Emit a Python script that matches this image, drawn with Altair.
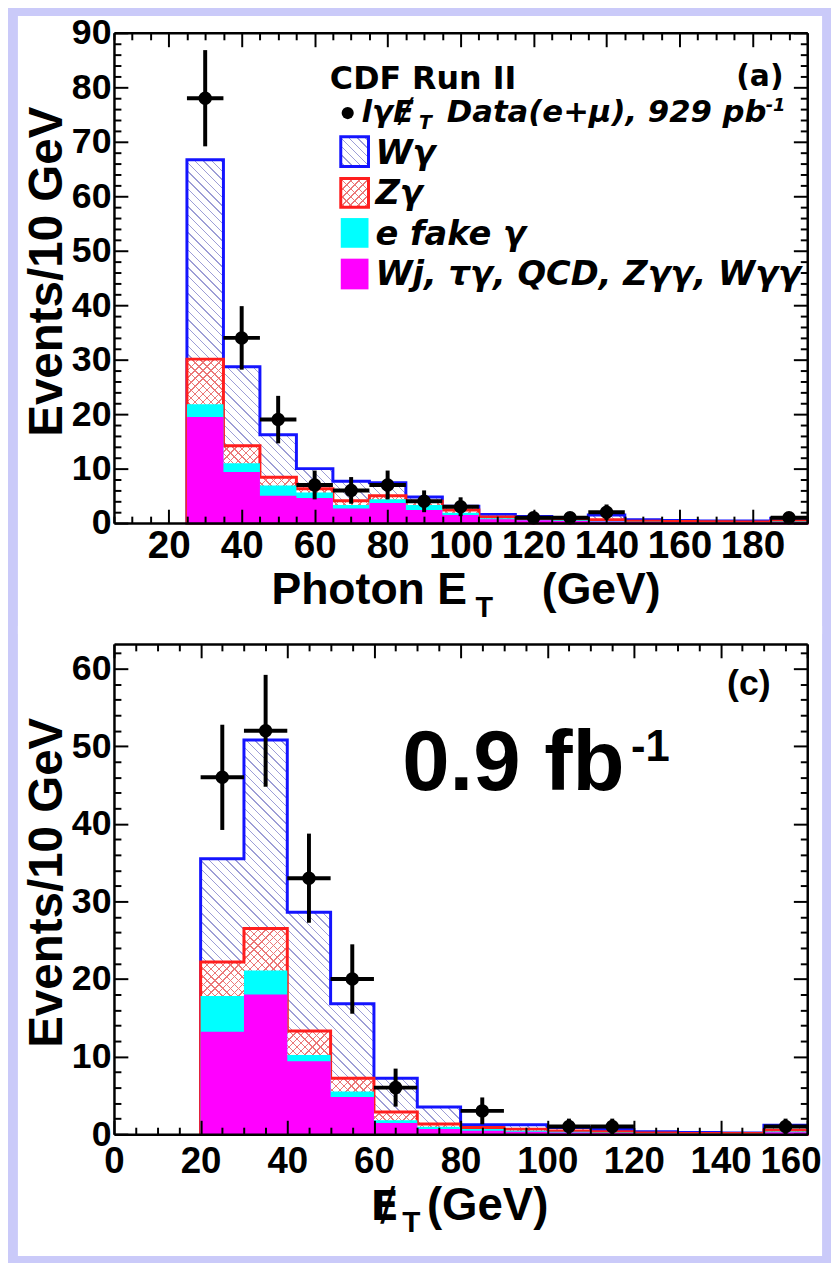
import math
import altair as alt
import pandas as pd

FONT = "Liberation Sans"
LFONT = "DejaVu Sans"
LAVENDER = "#cacaf9"
BLUE = "#1414ff"
RED = "#ff1e1e"
CYAN = "#00ffff"
MAGENTA = "#ff00ff"
WG_LINE = "#9d9ed6"
ZG_LINE = "#eb7878"

# ---------------- panel (a): photon E_T (cumulative stack tops) ----------------
a_bin_lo = [25, 35, 45, 55, 65, 75, 85, 95, 105, 115, 125, 135, 145, 155, 165, 175, 185]
a_wgamma_top = [66.7, 28.7, 16.2, 10.0, 7.7, 7.4, 4.8, 3.1, 1.6, 1.2, 1.0, 1.5, 0.6, 0.5, 0.4, 0.4, 0.9]
a_zgamma_top = [30.1, 14.2, 8.4, 6.3, 4.1, 5.0, 4.0, 2.4, 1.1, 0.8, 0.6, 0.6, 0.35, 0.3, 0.25, 0.2, 0.4]
a_efake_top = [21.8, 11.0, 6.9, 5.6, 3.3, 4.4, 3.3, 1.9, 0.9, 0.6, 0.5, 0.4, 0.25, 0.2, 0.15, 0.1, 0.3]
a_other_top = [19.5, 9.4, 5.0, 4.6, 2.7, 3.7, 2.4, 1.5, 0.7, 0.5, 0.4, 0.3, 0.2, 0.15, 0.1, 0.1, 0.2]
a_data_x = [30, 40, 50, 60, 70, 80, 90, 100, 120, 130, 140, 190]
a_data_n = [78, 34, 19, 7, 6, 7, 4, 3, 1, 1, 2, 1]

# ---------------- panel (c): missing E_T ----------------
c_bin_lo = [20, 30, 40, 50, 60, 70, 80, 90, 100, 110, 120, 130, 140, 150]
c_wgamma_top = [35.5, 50.8, 28.6, 16.8, 7.2, 3.5, 1.2, 1.2, 0.85, 0.6, 0.3, 0.2, 0.15, 1.15]
c_zgamma_top = [22.2, 26.5, 13.3, 7.2, 2.85, 1.3, 0.85, 0.65, 0.4, 0.3, 0.15, 0.1, 0.1, 0.5]
c_efake_top = [17.8, 21.1, 10.2, 5.5, 1.8, 0.95, 0.65, 0.45, 0.3, 0.2, 0.1, 0.05, 0.05, 0.35]
c_other_top = [13.2, 18.0, 9.4, 4.8, 1.45, 0.65, 0.45, 0.3, 0.2, 0.15, 0.05, 0.03, 0.03, 0.25]
c_data_x = [25, 35, 45, 55, 65, 85, 105, 115, 155]
c_data_n = [46, 52, 33, 20, 6, 3, 1, 1, 1]

BIN_WIDTH = 10

# ---------------- axis ticks / labels ----------------
a_x_labels = [20, 40, 60, 80, 100, 120, 140, 160, 180]
a_x_ticks = list(range(5, 196, 5))
a_y_labels = list(range(0, 91, 10))
a_y_ticks = list(range(0, 91, 2))
c_x_labels = [0, 20, 40, 60, 80, 100, 120, 140, 160]
c_x_ticks = list(range(0, 161, 5))
c_y_labels = [0, 10, 20, 30, 40, 50, 60]
c_y_ticks = list(range(0, 63, 2))

PW, PH = 700, 495
ONE = pd.DataFrame({"a": [0]})


def step_table(lo, width, **series):
    d = {"x": list(lo) + [lo[-1] + width]}
    for k, v in series.items():
        d[k] = list(v) + [v[-1]]
    return pd.DataFrame(d)


def hatch(W, H, spacing, lw, line, bg, direction):
    D = (W + H) / math.sqrt(2)
    n = max(1, int(round(D / spacing)))
    hw = (lw / 2.0) / D
    stops = [alt.GradientStop(offset=0, color=bg)]
    for k in range(n):
        c = (k + 0.5) / n
        a = round(max(0.0, c - hw), 6)
        b = round(min(1.0, c + hw), 6)
        stops += [alt.GradientStop(offset=a, color=bg), alt.GradientStop(offset=a, color=line),
                  alt.GradientStop(offset=b, color=line), alt.GradientStop(offset=b, color=bg)]
    stops.append(alt.GradientStop(offset=1, color=bg))
    f = (W + H) / (W * W + H * H)
    if direction == "back":
        x1, y1, x2, y2 = 0, 1, W * f, 1 - H * f
    else:
        x1, y1, x2, y2 = 0, 0, W * f, H * f
    return alt.Gradient(gradient="linear", stops=stops, x1=x1, y1=y1, x2=x2, y2=y2)


def txt(s, x, y, size, style="normal", align="left", weight="bold", font=FONT):
    return alt.Chart(ONE).mark_text(text=s, font=font, fontSize=size, fontWeight=weight, fontStyle=style,
                                    align=align, baseline="alphabetic", color="black").encode(
        x=alt.value(x), y=alt.value(y))


def box(x0, x1, y0, y1, fill, stroke=None):
    kw = dict(fill=fill)
    if stroke:
        kw.update(stroke=stroke, strokeWidth=3)
    else:
        kw.update(strokeWidth=0)
    return alt.Chart(ONE).mark_rect(**kw).encode(x=alt.value(x0), x2=alt.value(x1), y=alt.value(y0), y2=alt.value(y1))


def tick_axis(orient, offset, values, test):
    return alt.Axis(orient=orient, offset=offset, values=values, labels=False, ticks=True,
                    tickSize={"condition": {"test": test, "value": 14}, "value": 7},
                    tickWidth=2, tickColor="black", domain=True, domainColor="black", domainWidth=2.5,
                    grid=False, title=None, zindex=1)


def panel(lo, wg, zg, ef, ot, dx, dn, xdom, ydom, xlab, xtk, ylab, ytk, rect_top, rect_bot, xpad, xfs, extras,
          last_label=None):
    xs = alt.Scale(domain=xdom, nice=False, zero=False)
    ys = alt.Scale(domain=ydom, nice=False, zero=False)
    kx = PW / (xdom[1] - xdom[0])
    ky = PH / (ydom[1] - ydom[0])
    hist = step_table(lo, BIN_WIDTH, wg=wg, zg=zg, ef=ef, ot=ot)
    span = (lo[-1] + BIN_WIDTH - lo[0]) * kx
    base = alt.Chart(hist)

    lab_kw = {}
    if last_label is not None:
        test = f"datum.value === {last_label}"
        lab_kw = dict(labelAlign={"condition": {"test": test, "value": "right"}, "value": "center"},
                      labelOffset={"condition": {"test": test, "value": 14}, "value": 0})
    x_lab_axis = alt.Axis(orient="bottom", values=xlab, format="d", ticks=False, tickSize=0, domain=False,
                          grid=False, labelFont=FONT, labelFontSize=xfs, labelFontWeight="bold",
                          labelColor="black", labelPadding=xpad, labelBaseline="alphabetic", labelAngle=0,
                          labelFlush=False, labelOverlap=False, title=None, zindex=1, **lab_kw)
    y_lab_axis = alt.Axis(orient="left", values=ylab, format="d", ticks=False, tickSize=0, domain=False,
                          grid=False, labelFont=FONT, labelFontSize=36, labelFontWeight="bold",
                          labelColor="black", labelPadding=3, labelBaseline="middle", labelAlign="right",
                          labelFlush=False, labelOverlap=False,
                          title="Events/10 GeV", titleFont=FONT, titleFontSize=48, titleFontWeight="bold",
                          titleColor="black", titleAngle=270, titleAlign="right", titleBaseline="middle",
                          titleX=-67, titleY=74, zindex=1)
    xt = "datum.value % 20 === 0"
    yt = "datum.value % 10 === 0"

    bg = alt.Chart(ONE).mark_rect(fill="white", strokeWidth=0).encode(
        x=alt.value(-97), x2=alt.value(715), y=alt.value(rect_top), y2=alt.value(rect_bot))

    wg_l = base.mark_area(interpolate="step-after",
                          fill=hatch(span, max(wg) * ky, 6.2, 1.0, WG_LINE, "white", "back"),
                          stroke=BLUE, strokeWidth=3).encode(
        x=alt.X("x:Q", scale=xs, axis=x_lab_axis), y=alt.Y("wg:Q", scale=ys, axis=y_lab_axis), y2=alt.datum(0))
    zg_a = base.mark_area(interpolate="step-after",
                          fill=hatch(span, max(zg) * ky, 5.6, 1.0, ZG_LINE, "white", "fwd")).encode(
        x=alt.X("x:Q", scale=xs, axis=tick_axis("top", -PH, xtk, xt)),
        y=alt.Y("zg:Q", scale=ys, axis=tick_axis("right", -PW, ytk, yt)), y2=alt.datum(0))
    zg_b = base.mark_area(interpolate="step-after",
                          fill=hatch(span, max(zg) * ky, 5.6, 1.0, ZG_LINE, "rgba(255,255,255,0)", "back"),
                          stroke=RED, strokeWidth=3).encode(
        x=alt.X("x:Q", scale=xs, axis=tick_axis("bottom", -PH, xtk, xt)),
        y=alt.Y("zg:Q", scale=ys, axis=tick_axis("left", -PW, ytk, yt)), y2=alt.datum(0))
    ef_l = base.mark_area(interpolate="step-after", fill=CYAN).encode(
        x=alt.X("x:Q", scale=xs, axis=None), y=alt.Y("ef:Q", scale=ys, axis=None), y2=alt.datum(0))
    ot_l = base.mark_area(interpolate="step-after", fill=MAGENTA).encode(
        x=alt.X("x:Q", scale=xs, axis=None), y=alt.Y("ot:Q", scale=ys, axis=None), y2=alt.datum(0))

    half = BIN_WIDTH / 2
    db = alt.Chart(pd.DataFrame({"x": dx, "n": dn})).transform_calculate(
        lo="datum.n - sqrt(datum.n)", hi="datum.n + sqrt(datum.n)",
        xl=f"datum.x - {half}", xr=f"datum.x + {half}")
    vbar = db.mark_rule(color="black", strokeWidth=4).encode(
        x=alt.X("x:Q", scale=xs, axis=None), y=alt.Y("lo:Q", scale=ys, axis=None), y2="hi:Q")
    hbar = db.mark_rule(color="black", strokeWidth=4).encode(
        x=alt.X("xl:Q", scale=xs, axis=None), x2="xr:Q", y=alt.Y("n:Q", scale=ys, axis=None))
    pts = db.mark_circle(color="black", opacity=1, size=185).encode(
        x=alt.X("x:Q", scale=xs, axis=None), y=alt.Y("n:Q", scale=ys, axis=None))

    layers = [bg, wg_l, zg_a, zg_b, ef_l, ot_l, vbar, hbar, pts] + extras
    return alt.layer(*layers).resolve_axis(x="independent", y="independent").properties(width=PW, height=PH)


# ---------------- legend / annotations ----------------
LX0, LX1 = 229, 257
MET = "\u0246"  # E with stroke: missing transverse energy symbol
top_extras = [
    txt("CDF Run II", 218, 57, 32, font=LFONT),
    txt("(a)", 676, 54, 30, align="right", font=LFONT),
    alt.Chart(ONE).mark_circle(color="black", opacity=1, size=150).encode(x=alt.value(236), y=alt.value(81)),
    txt("l\u03b3" + MET, 250, 90, 31, style="italic", font=LFONT),
    txt("T", 308, 97, 19, style="italic", font=LFONT),
    txt("Data(e+\u03bc), 929 pb", 336, 90, 31, style="italic", font=LFONT),
    txt("-1", 658, 79, 18, style="italic", font=LFONT),
    box(LX0, LX1, 105, 135, hatch(28, 30, 6.2, 1.0, WG_LINE, "white", "back"), BLUE),
    box(LX0, LX1, 147, 176, hatch(28, 29, 5.6, 1.0, ZG_LINE, "white", "fwd")),
    box(LX0, LX1, 147, 176, hatch(28, 29, 5.6, 1.0, ZG_LINE, "rgba(255,255,255,0)", "back"), RED),
    box(LX0, LX1, 187, 217, CYAN),
    box(LX0, LX1, 228, 259, MAGENTA),
    txt("W\u03b3", 264, 132, 34, style="italic", font=LFONT),
    txt("Z\u03b3", 264, 173, 34, style="italic", font=LFONT),
    txt("e fake \u03b3", 264, 214, 34, style="italic", font=LFONT),
    txt("Wj, \u03c4\u03b3, QCD, Z\u03b3\u03b3, W\u03b3\u03b3", 264, 255, 34, style="italic", font=LFONT),
    txt("Photon E", 159, 577, 45),
    txt("T", 365, 590, 29),
    txt("(GeV)", 432, 577, 45),
]

bottom_extras = [
    txt("(c)", 663, 52, 36, align="right"),
    txt("0.9 fb", 291, 147, 86),
    txt("-1", 522, 118, 44),
    txt(MET, 259, 582, 42, font=LFONT),
    txt("T", 291, 594, 30),
    txt("(GeV)", 316, 582, 46),
]

top = panel(a_bin_lo, a_wgamma_top, a_zgamma_top, a_efake_top, a_other_top, a_data_x, a_data_n,
            [5, 195], [0, 90], a_x_labels, a_x_ticks, a_y_labels, a_y_ticks,
            rect_top=-17, rect_bot=607, xpad=35, xfs=39, extras=top_extras)
bottom = panel(c_bin_lo, c_wgamma_top, c_zgamma_top, c_efake_top, c_other_top, c_data_x, c_data_n,
               [0, 160], [0, 63.2], c_x_labels, c_x_ticks, c_y_labels, c_y_ticks,
               rect_top=-18, rect_bot=618, xpad=39, xfs=37, extras=bottom_extras, last_label=160)

chart = alt.vconcat(top, bottom, spacing=-10).properties(
    padding={"left": 9, "right": 8, "top": 0, "bottom": 0}
).configure(background=LAVENDER).configure_view(stroke="transparent")

chart.save("out.html", embed_options={"renderer": "svg", "actions": False})
